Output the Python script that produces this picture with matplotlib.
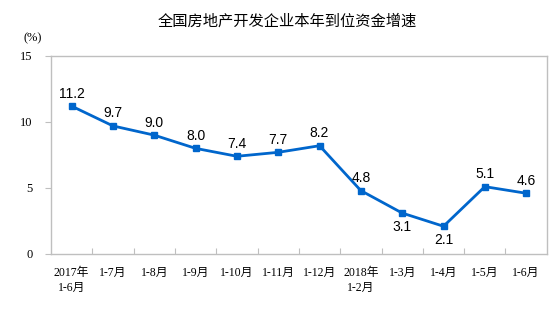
import matplotlib
matplotlib.use("Agg")
import matplotlib.pyplot as plt

# data
periods = ["2017年\n1-6月", "1-7月", "1-8月", "1-9月", "1-10月", "1-11月", "1-12月",
           "2018年\n1-2月", "1-3月", "1-4月", "1-5月", "1-6月"]
growth = [11.2, 9.7, 9.0, 8.0, 7.4, 7.7, 8.2, 4.8, 3.1, 2.1, 5.1, 4.6]
label_below = [False, False, False, False, False, False, False, False, True, True, False, False]
yticks = [0, 5, 10, 15]

serif_cjk = ["Liberation Serif", "Noto Sans CJK SC"]
sans_cjk = ["Noto Sans CJK SC", "DejaVu Sans"]

fig = plt.figure(figsize=(5.54, 3.29), dpi=100)
ax = fig.add_axes([0.092, 0.228, 0.895, 0.602])

x = list(range(len(growth)))
ax.plot(x, growth, color="#0066CC", lw=2, marker="s", ms=5, zorder=3)

for xi, v, below in zip(x, growth, label_below):
    dy = -10 if below else 9
    ax.annotate(f"{v:.1f}", (xi, v), xytext=(0, dy), textcoords="offset points",
                ha="center", va="center", fontsize=10, family="Liberation Sans")

ax.set_xlim(-0.5, len(growth) - 0.5)
ax.set_ylim(0, 15)
ax.set_yticks(yticks)
ax.set_yticklabels([str(t) for t in yticks], family=serif_cjk, fontsize=9)

ax.set_xticks([i + 0.5 for i in range(len(growth) - 1)])
ax.set_xticklabels([])
ax.tick_params(axis="x", direction="in", length=4, color="#BFBFBF")
ax.tick_params(axis="y", direction="out", length=4, color="#BFBFBF", pad=9)
for xi, lab in zip(x, periods):
    ax.text(xi, -0.95, lab, ha="center", va="top", fontsize=8.5, family=serif_cjk,
            linespacing=1.4)

for s in ax.spines.values():
    s.set_color("#BFBFBF")
    s.set_linewidth(1)

fig.text(0.042, 0.885, "(%)", fontsize=9, family=serif_cjk, ha="left", va="center")
fig.text(0.518, 0.935, "全国房地产开发企业本年到位资金增速", fontsize=11,
         family=sans_cjk, ha="center", va="center")

fig.savefig("out.png", dpi=100)
